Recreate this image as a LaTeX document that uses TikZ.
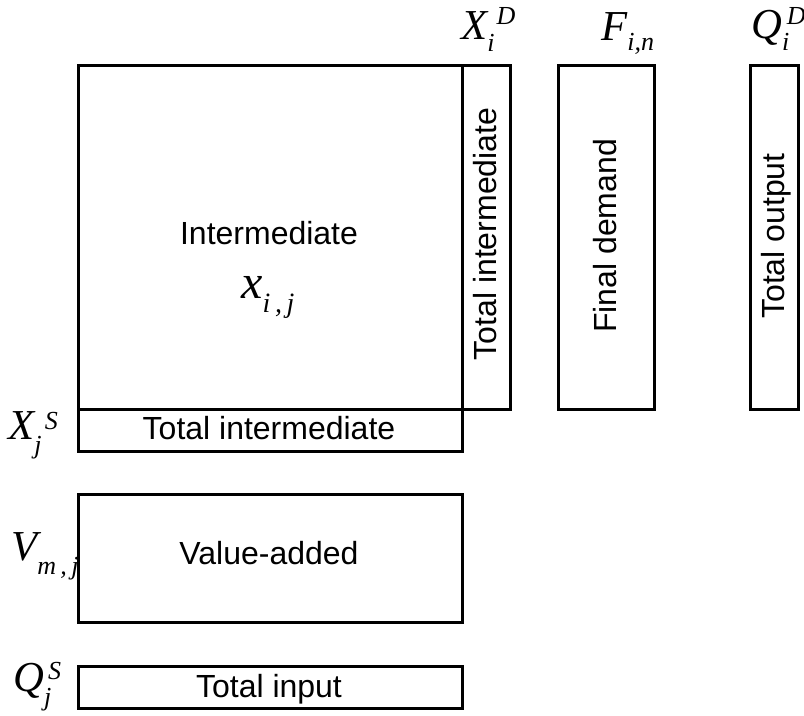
\documentclass[tikz,border=0pt]{standalone}
\usepackage{fontspec}
\setmainfont{Liberation Sans}
\newfontfamily\tnr{Liberation Serif}
\newcommand\bigsym[1]{{\fontsize{32}{32}\selectfont\tnr\itshape #1}}
\newcommand\smsym[1]{{\fontsize{19.5}{19.5}\selectfont\tnr\itshape #1}}
% #1 main, #2 sup, #3 sub, #4 sup kern, #5 sup raise, #6 sub lower
\newcommand\symlab[6]{\bigsym{#1}\makebox[0pt][l]{\hspace{#4}\raisebox{#5}{\smsym{#2}}}\raisebox{-#6}{\smsym{#3}}}
\begin{document}
\begin{tikzpicture}[x=0.75pt,y=-0.75pt,
  box/.style={draw, line width=2.2pt, inner sep=0pt, anchor=north west},
  txt/.style={font=\fontsize{24}{24}\selectfont, inner sep=0pt, anchor=base},
  vtxt/.style={font=\fontsize{24}{24}\selectfont, inner sep=0pt, anchor=base, rotate=90},
  lab/.style={inner sep=0pt, anchor=base west}]
\useasboundingbox (0,0) rectangle (804,715);
% boxes
\node[box, minimum width=288pt, minimum height=258pt] (inter) at (77,64) {};
\node[box, minimum width=36pt, minimum height=258pt] (totd) at (461,64) {};
\node[box, minimum width=72pt, minimum height=258pt] (fin) at (557,64) {};
\node[box, minimum width=36pt, minimum height=258pt] (out) at (749,64) {};
\node[box, minimum width=288pt, minimum height=31.5pt] (tots) at (77,408) {};
\node[box, minimum width=288pt, minimum height=96pt] (va) at (77,493) {};
\node[box, minimum width=288pt, minimum height=31.5pt] (tin) at (77,665) {};
% texts
\node[txt] (intertxt) at (269,244.5) {Intermediate};
\node[lab] (xij) at (241,298) {{\fontsize{36}{36}\selectfont\tnr\itshape x}\raisebox{-10.5pt}{\fontsize{21}{21}\selectfont\tnr\itshape i\,,\,j}};
\node[vtxt] (totdtxt) at (496.5,234) {Total intermediate};
\node[vtxt] (fintxt) at (616.5,236) {Final demand};
\node[vtxt] (outtxt) at (784.5,236) {Total output};
\node[txt] (totstxt) at (269,439.5) {Total intermediate};
\node[txt] (vatxt) at (269,564.5) {Value-added};
\node[txt] (tintxt) at (269,697.5) {Total input};
% symbol labels
\node[lab] (XD) at (461,39) {\symlab{X}{D}{i}{7pt}{11pt}{9pt}};
\node[lab] (F) at (601,40) {\bigsym{F}\raisebox{-8pt}{\smsym{i,n}}};
\node[lab] (QD) at (751,38) {\symlab{Q}{D}{i}{3.5pt}{10.5pt}{9.5pt}};
\node[lab] (XS) at (8,439) {\symlab{X}{S}{j}{8pt}{7pt}{10.5pt}};
\node[lab] (V) at (11,560) {\bigsym{V}\raisebox{-11pt}{\smsym{m\,,\,j}}};
\node[lab] (QS) at (13,691) {\symlab{Q}{S}{j}{3pt}{9pt}{11pt}};
\end{tikzpicture}
\end{document}
